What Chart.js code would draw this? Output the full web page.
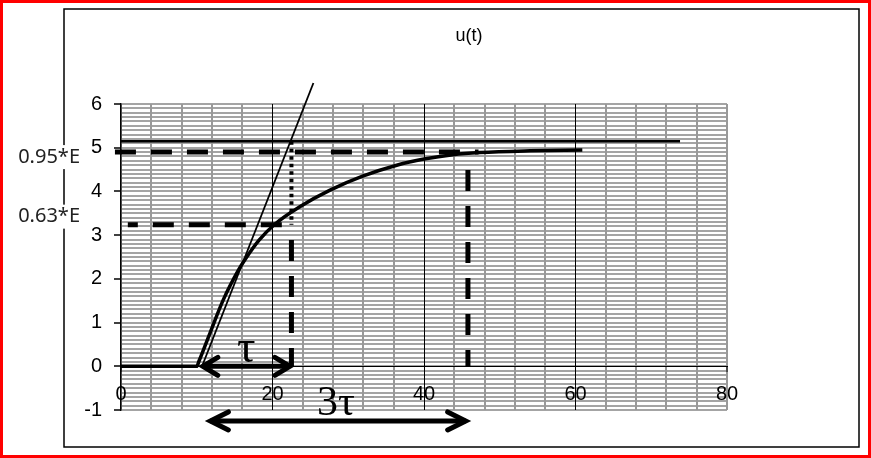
<!DOCTYPE html>
<html>
<head>
<meta charset="utf-8">
<script src="https://cdn.jsdelivr.net/npm/chart.js@4.4.1/dist/chart.umd.min.js"></script>
<style>
  html, body { margin: 0; padding: 0; background: #fff; }
  #wrap { width: 871px; height: 458px; }
</style>
</head>
<body>
<div id="wrap"><canvas id="stepChart"></canvas></div>
<script>
// u(t) step response
const curveT = [0, 9.6, 10.0, 10.3, 11.75, 13.5, 15.5, 16.4, 18.2, 20.3, 23.6, 27.6, 31.9, 36.4, 40.0, 43.8, 47.4, 54.0, 60.9];
const curveU = [0, 0, 0, 0.12, 0.76, 1.52, 2.2, 2.45, 2.88, 3.25, 3.65, 4.03, 4.35, 4.6, 4.74, 4.84, 4.89, 4.93, 4.95];

const levelE = 5.15;
const level95 = 4.9;
const level63 = 3.24;
const levelEndT = 73.8;

const tangentT = [10.7, 25.4];
const tangentU = [0, 6.48];

const tauT = 22.5;
const threeTauT = 45.8;

const tauArrowT = [10.8, 22.3];
const tauArrowU = [0, 0];
const threeTauArrowT = [11.8, 45.5];
const threeTauArrowU = [-1.25, -1.25];

const xTicks = [0, 20, 40, 60, 80];
const yTicks = [-1, 0, 1, 2, 3, 4, 5, 6];

function pts(xs, ys) {
    return xs.map((v, i) => ({ x: v, y: ys[i] }));
}

function isMajor(v, list) {
    return list.some(t => Math.abs(t - v) < 1e-6);
}

const overlay = {
    id: "overlay",
    beforeDraw(chart) {
        const c = chart.ctx;
        c.save();
        c.fillStyle = "#fff";
        c.fillRect(0, 0, chart.width, chart.height);
        c.restore();
    },
    afterDraw(chart) {
        const c = chart.ctx;
        const xs = chart.scales.x;
        const ys = chart.scales.y;
        c.save();

        // frames
        c.strokeStyle = "#000";
        c.lineWidth = 1.5;
        c.strokeRect(64, 9, 795, 438);
        c.strokeStyle = "#ff0000";
        c.lineWidth = 3;
        c.strokeRect(1.5, 1.5, chart.width - 3, chart.height - 3);

        // title
        c.fillStyle = "#000";
        c.font = "18px 'Liberation Sans', Arial, sans-serif";
        c.textAlign = "center";
        c.textBaseline = "middle";
        c.fillText("u(t)", 469, 36);

        // level labels on a white box
        c.font = "20px 'Noto Sans', sans-serif";
        c.textAlign = "right";
        [[level95, 5], [level63, -8]].forEach(([lv, dy]) => {
            const ly = ys.getPixelForValue(lv) + dy;
            const txt = lv === level95 ? "0.95*E" : "0.63*E";
            const w = c.measureText(txt).width;
            c.fillStyle = "#fff";
            c.fillRect(80 - w - 2, ly - 12, w + 4, 24);
            c.fillStyle = "#222";
            c.fillText(txt, 80, ly);
        });

        // arrow heads
        function head(px, py, dir, len, half) {
            c.beginPath();
            c.moveTo(px - dir * len, py - half);
            c.lineTo(px, py);
            c.lineTo(px - dir * len, py + half);
            c.stroke();
        }
        c.strokeStyle = "#000";
        c.lineWidth = 5;
        c.lineCap = "round";
        c.lineJoin = "miter";
        let py = ys.getPixelForValue(tauArrowU[0]);
        head(xs.getPixelForValue(tauArrowT[0]), py, -1, 15, 9);
        head(xs.getPixelForValue(tauArrowT[1]), py, 1, 15, 9);
        py = ys.getPixelForValue(threeTauArrowU[0]);
        head(xs.getPixelForValue(threeTauArrowT[0]), py, -1, 18, 9);
        head(xs.getPixelForValue(threeTauArrowT[1]), py, 1, 18, 9);

        // tau labels
        c.fillStyle = "#000";
        c.textAlign = "center";
        c.textBaseline = "middle";
        c.font = "46px 'Liberation Serif', serif";
        c.fillText("\u03C4", xs.getPixelForValue((tauArrowT[0] + tauArrowT[1]) / 2), ys.getPixelForValue(tauArrowU[0]) - 16);
        c.font = "42px 'Liberation Serif', serif";
        c.fillText("3\u03C4", 336, ys.getPixelForValue(threeTauArrowU[0]) - 17);

        c.restore();
    }
};

const ctx = document.getElementById("stepChart").getContext("2d");
new Chart(ctx, {
    type: "line",
    data: {
        datasets: [
            {
                label: "u(t)",
                data: pts(curveT, curveU),
                borderColor: "#000",
                borderWidth: 3.5,
                cubicInterpolationMode: "monotone",
                pointRadius: 0
            },
            {
                label: "E",
                data: pts([0, levelEndT], [levelE, levelE]),
                borderColor: "#000",
                borderWidth: 2.5,
                pointRadius: 0
            },
            {
                label: "tangent",
                data: pts(tangentT, tangentU),
                borderColor: "#000",
                borderWidth: 1.8,
                pointRadius: 0,
                clip: false
            },
            {
                label: "0.95E",
                data: pts([-0.8, 47.2], [level95, level95]),
                borderColor: "#000",
                borderWidth: 5,
                borderDash: [21, 15],
                pointRadius: 0,
                clip: false
            },
            {
                label: "0.63E",
                data: pts([0.9, tauT], [level63, level63]),
                borderColor: "#000",
                borderWidth: 5,
                borderDash: [21, 15],
                borderDashOffset: 11,
                pointRadius: 0,
                clip: false
            },
            {
                label: "tau dotted",
                data: pts([tauT, tauT], [levelE, level63]),
                borderColor: "#000",
                borderWidth: 4,
                borderDash: [3.5, 4],
                pointRadius: 0
            },
            {
                label: "tau dashed",
                data: pts([tauT, tauT], [2.89, 0]),
                borderColor: "#000",
                borderWidth: 5,
                borderDash: [21, 15],
                pointRadius: 0
            },
            {
                label: "3tau dashed",
                data: pts([threeTauT, threeTauT], [4.49, 0]),
                borderColor: "#000",
                borderWidth: 5,
                borderDash: [21, 15],
                pointRadius: 0
            },
            {
                label: "tau arrow",
                data: pts(tauArrowT, tauArrowU),
                borderColor: "#000",
                borderWidth: 5,
                pointRadius: 0
            },
            {
                label: "3tau arrow",
                data: pts(threeTauArrowT, threeTauArrowU),
                borderColor: "#000",
                borderWidth: 5,
                pointRadius: 0,
                clip: false
            }
        ]
    },
    options: {
        responsive: true,
        maintainAspectRatio: false,
        animation: false,
        layout: { padding: { left: 0, top: 104, right: 144, bottom: 48 } },
        plugins: {
            legend: { display: false },
            tooltip: { enabled: false },
            title: { display: false }
        },
        scales: {
            x: {
                type: "linear",
                position: { y: 0 },
                min: 0,
                max: 80,
                ticks: {
                    stepSize: 4,
                    autoSkip: false,
                    maxRotation: 0,
                    padding: 11,
                    color: "#000",
                    font: { family: "'Liberation Sans', Arial, sans-serif", size: 20 },
                    callback: v => isMajor(v, xTicks) ? String(v) : ""
                },
                grid: {
                    z: -1,
                    color: c => isMajor(c.tick.value, [20, 40, 60]) ? "#000" : "#999",
                    lineWidth: c => isMajor(c.tick.value, [20, 40, 60]) ? 1 : 2,
                    tickLength: 5,
                    tickColor: c => isMajor(c.tick.value, xTicks) ? "#000" : "rgba(0,0,0,0)",
                    tickWidth: 1
                },
                border: { color: "#000", width: 1 }
            },
            y: {
                type: "linear",
                min: -1,
                max: 6,
                afterFit: s => { s.width = 121; },
                ticks: {
                    stepSize: 0.1,
                    autoSkip: false,
                    padding: 12,
                    color: "#000",
                    font: { family: "'Liberation Sans', Arial, sans-serif", size: 20 },
                    callback: v => isMajor(v, yTicks) ? String(Math.round(v)) : ""
                },
                grid: {
                    z: -2,
                    color: "#a4a4a4",
                    lineWidth: 2,
                    tickLength: 7,
                    tickColor: c => isMajor(c.tick.value, yTicks) ? "#000" : "rgba(0,0,0,0)",
                    tickWidth: 1.5
                },
                border: { color: "#000", width: 1.5 }
            }
        }
    },
    plugins: [overlay]
});
</script>
</body>
</html>
